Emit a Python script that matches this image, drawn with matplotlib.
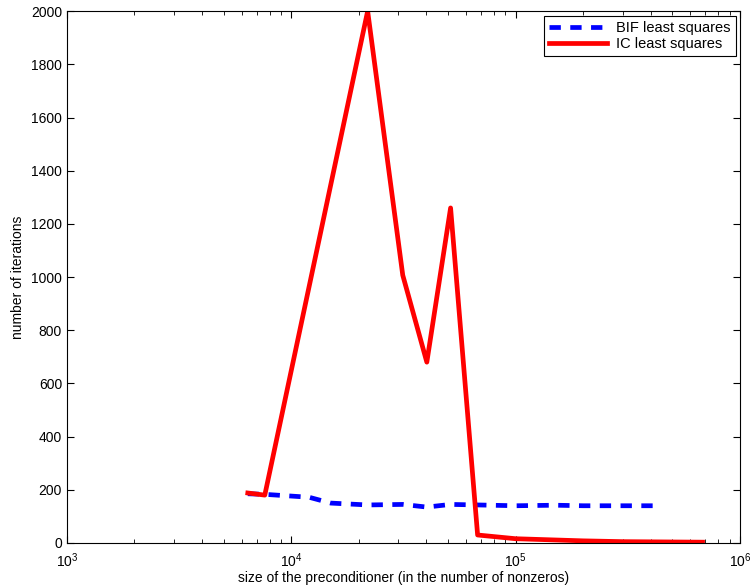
import matplotlib

matplotlib.use("Agg")
import matplotlib.pyplot as plt
from matplotlib.ticker import LogLocator, NullFormatter

plt.rcParams["font.family"] = ["Liberation Sans", "DejaVu Sans"]

# --- data --------------------------------------------------------------------
bif_x = [6400, 7600, 12000, 15000, 21900, 31400, 40200, 51300, 67700,
         100000, 150000, 200000, 300000, 416000]
bif_y = [185, 183, 172, 150, 143, 145, 135, 145, 143, 140, 142, 140, 140, 140]

ic_x = [6400, 7620, 21900, 31400, 40200, 51300, 67700, 100000, 200000,
        300000, 681000]
ic_y = [188, 180, 2000, 1007, 680, 1260, 30, 16, 8, 5, 3]

fig = plt.figure(figsize=(7.52, 5.87), dpi=100)
ax = fig.add_axes([0.089, 0.075, 0.895, 0.906])

ax.plot(bif_x, bif_y, color="#0000ff", lw=3.4, ls=(0, (2.4, 2.0)),
        label="BIF least squares")
ax.plot(ic_x, ic_y, color="#ff0000", lw=3.4, label="IC least squares")

ax.set_xscale("log")
ax.set_xlim(1e3, 1e6)
ax.set_ylim(0, 2000)
ax.set_yticks(range(0, 2001, 200))
ax.xaxis.set_minor_locator(LogLocator(base=10, subs=range(2, 10)))
ax.xaxis.set_minor_formatter(NullFormatter())

ax.tick_params(which="both", direction="in", top=True, right=True,
               labelsize=10)
ax.tick_params(which="major", length=5)
ax.tick_params(which="minor", length=3)
ax.tick_params(axis="x", which="major", pad=6)

ax.set_xlabel("size of the preconditioner (in the number of nonzeros)",
              fontsize=10, labelpad=1)
ax.set_ylabel("number of iterations", fontsize=10, labelpad=4)

leg = ax.legend(loc="upper right", fontsize=10.5, fancybox=False,
                framealpha=1, edgecolor="black", handlelength=4.0,
                borderaxespad=0.3, borderpad=0.35, labelspacing=0.15,
                handletextpad=0.6)
leg.get_frame().set_linewidth(0.8)

fig.savefig("out.png", dpi=100, facecolor="white")
